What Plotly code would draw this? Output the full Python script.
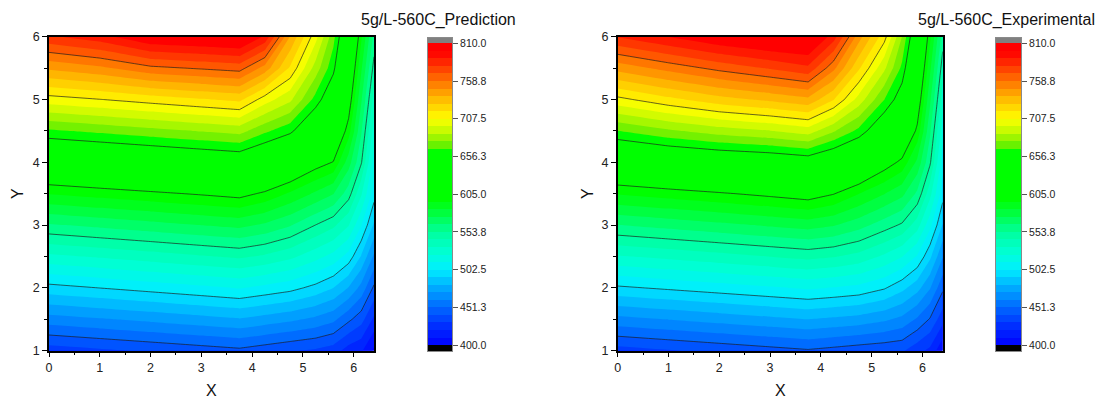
import numpy as np
import plotly.graph_objects as go
from plotly.colors import sample_colorscale

# ---------------- data ----------------
x_nodes = [0, 1, 2, 3, 3.75, 4.25, 4.75, 5.25, 5.6, 5.9, 6.15, 6.4]
y_nodes = [1, 1.5, 2, 2.5, 3, 3.5, 4, 4.5, 5, 5.5, 6]

# each inner list: values along y (1 -> 6) at one x node
pred_cols = [
    [435.4, 467.1, 498.7, 530.7, 562.8, 595.3, 629.2, 664.7, 702.9, 740.2, 777.3],
    [438.9, 470.7, 502.6, 534.6, 566.7, 599.0, 633.1, 668.9, 707.2, 746.3, 785.3],
    [442.4, 474.4, 506.5, 538.5, 570.5, 602.6, 637.0, 673.2, 712.1, 756.1, 800.1],
    [446.0, 478.2, 510.4, 542.5, 574.4, 606.2, 640.9, 677.5, 716.8, 760.0, 803.0],
    [448.7, 481.1, 513.4, 545.4, 577.2, 609.2, 643.8, 680.7, 720.3, 763.0, 805.7],
    [445.2, 477.6, 509.8, 541.7, 572.5, 602.8, 635.6, 668.8, 702.4, 744.3, 787.6],
    [441.8, 474.1, 506.0, 535.9, 565.0, 593.1, 624.9, 659.2, 689.4, 716.1, 737.4],
    [439.3, 469.2, 499.2, 526.6, 553.6, 582.6, 611.1, 637.9, 662.6, 682.6, 701.0],
    [435.8, 464.1, 492.3, 519.5, 546.0, 574.7, 604.4, 623.7, 642.8, 659.4, 670.1],
    [425.8, 453.6, 481.3, 508.5, 534.0, 558.4, 579.1, 599.8, 613.0, 623.8, 634.5],
    [422.0, 445.1, 468.2, 491.3, 513.4, 534.6, 554.8, 565.2, 575.6, 586.0, 596.4],
    [407.9, 428.5, 449.2, 469.8, 490.5, 507.0, 517.7, 528.4, 539.1, 549.9, 560.6],
]

exp_cols = [
    [436.5, 468.5, 500.6, 532.2, 563.9, 595.5, 629.9, 666.2, 704.4, 742.2, 779.9],
    [440.1, 472.1, 504.2, 536.0, 567.8, 599.5, 636.0, 674.9, 714.9, 752.4, 790.0],
    [443.7, 475.7, 507.8, 539.8, 571.7, 603.6, 640.1, 681.8, 724.0, 761.9, 799.9],
    [447.3, 479.3, 511.4, 543.7, 575.7, 607.9, 643.0, 686.7, 730.3, 770.2, 806.0],
    [450.0, 482.0, 514.2, 546.6, 578.7, 611.4, 647.0, 692.0, 735.6, 777.0, 807.0],
    [447.7, 479.9, 512.2, 544.3, 575.2, 605.6, 639.2, 678.0, 718.4, 751.4, 784.4],
    [445.3, 477.8, 509.7, 539.9, 568.2, 594.9, 628.2, 663.5, 693.0, 719.3, 742.5],
    [443.6, 473.7, 503.6, 531.3, 558.7, 584.9, 611.8, 640.9, 666.8, 689.2, 711.5],
    [442.5, 468.9, 495.3, 523.4, 552.1, 577.1, 602.0, 625.0, 647.7, 664.0, 676.4],
    [434.3, 460.0, 485.7, 511.6, 537.9, 561.8, 582.0, 602.2, 615.3, 627.3, 639.2],
    [428.2, 450.3, 472.5, 494.6, 515.9, 536.7, 555.6, 566.0, 576.5, 586.9, 597.3],
    [412.0, 434.5, 453.5, 472.5, 491.5, 506.8, 517.2, 527.5, 537.8, 548.2, 558.7],
]

z_min, z_max = 400.0, 810.0
band_size = 10.25
line_start, line_end, line_step = 451.25, 758.75, 51.25
cbar_tickvals = [400.0, 451.25, 502.5, 553.75, 605.0, 656.25, 707.5, 758.75, 810.0]
cbar_ticktext = ["400.0", "451.3", "502.5", "553.8", "605.0", "656.3", "707.5", "758.8", "810.0"]
titles = ["5g/L-560C_Prediction", "5g/L-560C_Experimental"]
x_ticks = [0, 1, 2, 3, 4, 5, 6]
y_ticks = [1, 2, 3, 4, 5, 6]

# ---------------- colours ----------------
color_stops = [
    (400, (0, 0, 255)), (425, (0, 45, 255)), (451.25, (0, 105, 255)),
    (478, (0, 170, 255)), (502.5, (0, 238, 255)), (525, (0, 255, 215)),
    (553.75, (0, 255, 155)), (580, (0, 255, 60)), (598, (0, 255, 0)),
    (663, (0, 255, 0)), (672, (110, 240, 0)), (690, (195, 250, 0)),
    (707.5, (255, 255, 0)), (735, (255, 185, 0)), (758.75, (255, 115, 0)),
    (785, (255, 35, 0)), (798, (255, 0, 0)), (810, (255, 0, 0)),
]
lo = z_min - band_size / 2
hi = z_max + band_size / 2
cscale = [[0.0, "rgb(0,0,255)"]]
for v, c in color_stops:
    cscale.append([(v - lo) / (hi - lo), "rgb(%d,%d,%d)" % c])
cscale.append([1.0, "rgb(255,0,0)"])

n_bands = int(round((z_max - z_min) / band_size))
mids = [z_min + band_size * (i + 0.5) for i in range(n_bands)]
band_colors = sample_colorscale(cscale, [(m - lo) / (hi - lo) for m in mids])
cap_lo, cap_hi = 392.0, 817.2
cb_colors = ["rgb(0,0,0)"] + band_colors + ["rgb(128,128,128)"]
cb_edges = [cap_lo] + [z_min + band_size * i for i in range(n_bands + 1)] + [cap_hi]
nc = len(cb_colors)
cb_scale = []
for i, c in enumerate(cb_colors):
    cb_scale.append([i / nc, c])
    cb_scale.append([(i + 1) / nc, c])

# ---------------- layout geometry ----------------
W, H = 1101, 399
FONT = "Liberation Sans, Arial, sans-serif"
plot_x = [(49, 374), (617.7, 942.7)]
cb_x = [(428, 452), (996, 1021)]
py0, py1 = 36.7, 350.7
cy0, cy1 = 38, 351

fig = go.Figure()
layout = dict(width=W, height=H, margin=dict(l=0, r=0, t=0, b=0, pad=0, autoexpand=False),
              paper_bgcolor="white", plot_bgcolor="white", showlegend=False,
              font=dict(family=FONT, color="#222"))

for k, cols in enumerate([pred_cols, exp_cols]):
    Z = np.array(cols).T
    xa = "x" if k == 0 else "x%d" % (k + 1)
    ya = "y" if k == 0 else "y%d" % (k + 1)
    fig.add_trace(go.Contour(
        x=x_nodes, y=y_nodes, z=Z, xaxis=xa, yaxis=ya,
        zmin=z_min, zmax=z_max, autocontour=False,
        contours=dict(start=z_min, end=z_max, size=band_size, coloring="fill", showlines=False),
        colorscale=cscale, showscale=False, line=dict(width=0, smoothing=0),
        hoverinfo="skip"))
    fig.add_trace(go.Contour(
        x=x_nodes, y=y_nodes, z=Z, xaxis=xa, yaxis=ya, autocontour=False,
        contours=dict(start=line_start, end=line_end, size=line_step, coloring="none"),
        line=dict(color="rgba(30,30,30,0.85)", width=0.8, smoothing=0),
        showscale=False, hoverinfo="skip"))

    x0, x1 = plot_x[k]
    axk = "" if k == 0 else str(k + 1)
    layout["xaxis" + axk] = dict(
        domain=[x0 / W, x1 / W], range=[0, 6.4], anchor=ya,
        tickmode="array", tickvals=x_ticks, ticks="outside", ticklen=5, tickwidth=1.2,
        tickcolor="black", showline=True, linecolor="black", linewidth=1.5, mirror=True,
        showgrid=False, zeroline=False, tickfont=dict(size=12.5, color="#222"),
        minor=dict(tick0=0, dtick=0.5, ticks="outside", ticklen=3, tickcolor="black", tickwidth=1, showgrid=False))
    layout["yaxis" + axk] = dict(
        domain=[(H - py1) / H, (H - py0) / H], range=[1, 6], anchor=xa,
        tickmode="array", tickvals=y_ticks, ticks="outside", ticklen=5, tickwidth=1.2,
        tickcolor="black", showline=True, linecolor="black", linewidth=1.5, mirror=True,
        showgrid=False, zeroline=False, tickfont=dict(size=12.5, color="#222"),
        minor=dict(tick0=0, dtick=0.5, ticks="outside", ticklen=3, tickcolor="black", tickwidth=1, showgrid=False))

    # custom colour bar
    cxa = "x%d" % (k + 3)
    cya = "y%d" % (k + 3)
    fig.add_trace(go.Heatmap(
        x=[0, 1], y=cb_edges, z=[[i + 0.5] for i in range(nc)],
        zmin=0, zmax=nc, colorscale=cb_scale, showscale=False,
        xaxis=cxa, yaxis=cya, hoverinfo="skip"))
    c0, c1 = cb_x[k]
    layout["xaxis%d" % (k + 3)] = dict(
        domain=[c0 / W, c1 / W], range=[0, 1], anchor=cya, showticklabels=False,
        ticks="", showline=True, linecolor="#8a8a8a", linewidth=1, mirror=True,
        showgrid=False, zeroline=False)
    layout["yaxis%d" % (k + 3)] = dict(
        domain=[(H - cy1) / H, (H - cy0) / H], range=[cap_lo, cap_hi], anchor=cxa,
        side="right", tickmode="array", tickvals=cbar_tickvals, ticktext=cbar_ticktext,
        ticks="outside", ticklen=5, tickwidth=1, tickcolor="#555",
        showline=True, linecolor="#8a8a8a", linewidth=1, mirror=True,
        showgrid=False, zeroline=False, tickfont=dict(size=10.5, color="#222"))

annotations = [
    dict(text=titles[0], x=517.5 / W, y=(H - 20) / H, xref="paper", yref="paper",
         xanchor="right", yanchor="middle", showarrow=False, font=dict(size=16, color="#111")),
    dict(text=titles[1], x=1097 / W, y=(H - 20) / H, xref="paper", yref="paper",
         xanchor="right", yanchor="middle", showarrow=False, font=dict(size=16, color="#111")),
    dict(text="X", x=211.5 / W, y=(H - 390.5) / H, xref="paper", yref="paper",
         xanchor="center", yanchor="middle", showarrow=False, font=dict(size=16, color="#111")),
    dict(text="X", x=780.3 / W, y=(H - 390.5) / H, xref="paper", yref="paper",
         xanchor="center", yanchor="middle", showarrow=False, font=dict(size=16, color="#111")),
    dict(text="Y", x=17.5 / W, y=(H - 193.5) / H, xref="paper", yref="paper", textangle=-90,
         xanchor="center", yanchor="middle", showarrow=False, font=dict(size=16, color="#111")),
    dict(text="Y", x=587.5 / W, y=(H - 193.5) / H, xref="paper", yref="paper", textangle=-90,
         xanchor="center", yanchor="middle", showarrow=False, font=dict(size=16, color="#111")),
]
layout["annotations"] = annotations
fig.update_layout(**layout)
fig.write_html("out.html",
               post_script="document.body.style.margin='0';document.body.style.overflow='hidden';")
